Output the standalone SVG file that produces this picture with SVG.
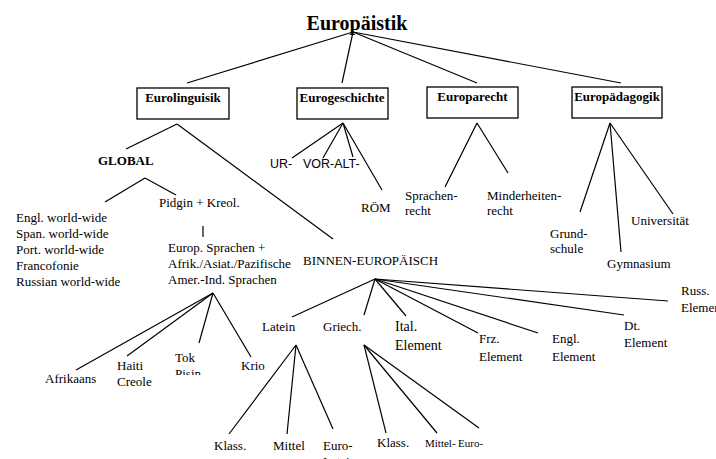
<svg xmlns="http://www.w3.org/2000/svg" width="716" height="459" viewBox="0 0 716 459">
<style>
.ln{stroke:#000;stroke-width:1.2;fill:none}
.box{fill:#fff;stroke:#000;stroke-width:1.3}
.t{font-family:"Liberation Serif","Times New Roman",serif;font-size:13px;fill:#000}
.b{font-weight:bold}
.s{font-family:"Liberation Sans",Arial,sans-serif;font-size:12.5px;fill:#000}
.big{font-size:14px}
.sm{font-size:11px}
</style>
<defs>
<clipPath id="clipTok"><rect x="160" y="340" width="60" height="35"/></clipPath>
</defs>
<rect width="716" height="459" fill="#fff"/>
<g id="connectors">
<line class="ln" x1="353" y1="32" x2="187" y2="83"/>
<line class="ln" x1="353" y1="32" x2="342" y2="83"/>
<line class="ln" x1="353" y1="32" x2="477" y2="83"/>
<line class="ln" x1="353" y1="32" x2="621" y2="83"/>
<line class="ln" x1="177" y1="124" x2="126" y2="149"/>
<line class="ln" x1="177" y1="124" x2="333" y2="239"/>
<line class="ln" x1="145" y1="178" x2="105" y2="202"/>
<line class="ln" x1="145" y1="178" x2="176" y2="195"/>
<line class="ln" x1="203" y1="226" x2="203" y2="237"/>
<line class="ln" x1="213" y1="293" x2="76" y2="370"/>
<line class="ln" x1="213" y1="293" x2="127" y2="356"/>
<line class="ln" x1="213" y1="293" x2="199" y2="343"/>
<line class="ln" x1="213" y1="293" x2="251" y2="357"/>
<line class="ln" x1="343" y1="123" x2="292" y2="158"/>
<line class="ln" x1="343" y1="123" x2="323" y2="158"/>
<line class="ln" x1="343" y1="123" x2="353" y2="157"/>
<line class="ln" x1="343" y1="123" x2="382" y2="190"/>
<line class="ln" x1="477" y1="123" x2="445" y2="187"/>
<line class="ln" x1="477" y1="123" x2="508" y2="173"/>
<line class="ln" x1="610" y1="123" x2="580" y2="212"/>
<line class="ln" x1="610" y1="123" x2="621" y2="252"/>
<line class="ln" x1="610" y1="123" x2="673" y2="214"/>
<line class="ln" x1="375" y1="279" x2="292" y2="317"/>
<line class="ln" x1="375" y1="279" x2="364" y2="315"/>
<line class="ln" x1="375" y1="279" x2="406" y2="316"/>
<line class="ln" x1="375" y1="279" x2="478" y2="333"/>
<line class="ln" x1="375" y1="279" x2="538" y2="333"/>
<line class="ln" x1="375" y1="279" x2="624" y2="315"/>
<line class="ln" x1="375" y1="279" x2="668" y2="301"/>
<line class="ln" x1="296" y1="345" x2="229" y2="434"/>
<line class="ln" x1="296" y1="345" x2="287" y2="434"/>
<line class="ln" x1="296" y1="345" x2="333" y2="429"/>
<line class="ln" x1="364" y1="345" x2="386" y2="433"/>
<line class="ln" x1="364" y1="345" x2="437" y2="433"/>
<line class="ln" x1="364" y1="345" x2="479" y2="428"/>
</g>
<g id="europaistik"><text class="t b" x="357" y="30" text-anchor="middle" style="font-size:20px">Europäistik</text></g>
<g id="eurolinguisik"><rect class="box" x="137" y="88" width="92" height="31"/><text class="t b" x="183" y="102" text-anchor="middle">Eurolinguisik</text></g>
<g id="eurogeschichte"><rect class="box" x="297" y="88" width="91" height="31"/><text class="t b" x="342" y="102" text-anchor="middle">Eurogeschichte</text></g>
<g id="europarecht"><rect class="box" x="427" y="87" width="91" height="31"/><text class="t b" x="472.5" y="101" text-anchor="middle">Europarecht</text></g>
<g id="europadagogik"><rect class="box" x="572" y="87" width="90" height="31"/><text class="t b" x="617" y="101" text-anchor="middle">Europädagogik</text></g>
<g id="global"><text class="t b" x="98" y="165">GLOBAL</text></g>
<g id="pidgin"><text class="t" x="159" y="207">Pidgin + Kreol.</text></g>
<g id="worldwide"><text class="t" x="16" y="222">Engl. world-wide</text><text class="t" x="16" y="238">Span. world-wide</text><text class="t" x="16" y="254">Port. world-wide</text><text class="t" x="16" y="270">Francofonie</text><text class="t" x="16" y="286">Russian world-wide</text></g>
<g id="europ-sprachen"><text class="t" x="168" y="252">Europ. Sprachen +</text><text class="t" x="168" y="268">Afrik./Asiat./Pazifische</text><text class="t" x="168" y="284">Amer.-Ind. Sprachen</text></g>
<g id="afrikaans"><text class="t" x="45" y="383">Afrikaans</text></g>
<g id="haiti"><text class="t" x="117" y="370">Haiti</text><text class="t" x="117" y="386">Creole</text></g>
<g id="tokpisin"><text class="t" x="175" y="362">Tok</text><text class="t" x="175" y="378" clip-path="url(#clipTok)">Pisin</text></g>
<g id="krio"><text class="t" x="241" y="370">Krio</text></g>
<g id="ur"><text class="s" x="270" y="168">UR-</text></g>
<g id="vor-alt"><text class="s" x="303" y="168">VOR-ALT-</text></g>
<g id="rom"><text class="t" x="361" y="212">RÖM</text></g>
<g id="sprachenrecht"><text class="t" x="405" y="200">Sprachen-</text><text class="t" x="405" y="215">recht</text></g>
<g id="minderheitenrecht"><text class="t" x="487" y="200">Minderheiten-</text><text class="t" x="487" y="215">recht</text></g>
<g id="grundschule"><text class="t" x="550" y="238">Grund-</text><text class="t" x="550" y="253">schule</text></g>
<g id="gymnasium"><text class="t" x="607" y="268">Gymnasium</text></g>
<g id="universitat"><text class="t" x="631" y="225">Universität</text></g>
<g id="binnen"><text class="t" x="303" y="265">BINNEN-EUROPÄISCH</text></g>
<g id="latein"><text class="t" x="262" y="331">Latein</text></g>
<g id="griech"><text class="t" x="323" y="331">Griech.</text></g>
<g id="ital"><text class="t big" x="395" y="331">Ital.</text><text class="t big" x="395" y="350">Element</text></g>
<g id="frz"><text class="t" x="479" y="343">Frz.</text><text class="t" x="479" y="361">Element</text></g>
<g id="engl"><text class="t" x="552" y="343">Engl.</text><text class="t" x="552" y="361">Element</text></g>
<g id="dt"><text class="t" x="624" y="330">Dt.</text><text class="t" x="624" y="347">Element</text></g>
<g id="russ"><text class="t" x="681" y="295">Russ.</text><text class="t" x="681" y="312">Element</text></g>
<g id="lat-klass"><text class="t" x="214" y="450">Klass.</text></g>
<g id="lat-mittel"><text class="t" x="273" y="450">Mittel</text></g>
<g id="lat-euro"><text class="t" x="323" y="450">Euro-</text><text class="t" x="323" y="466">Latein</text></g>
<g id="gr-klass"><text class="t" x="377" y="447">Klass.</text></g>
<g id="gr-mittel"><text class="t sm" x="425" y="447">Mittel-</text></g>
<g id="gr-euro"><text class="t sm" x="458" y="447">Euro-</text></g>
</svg>
